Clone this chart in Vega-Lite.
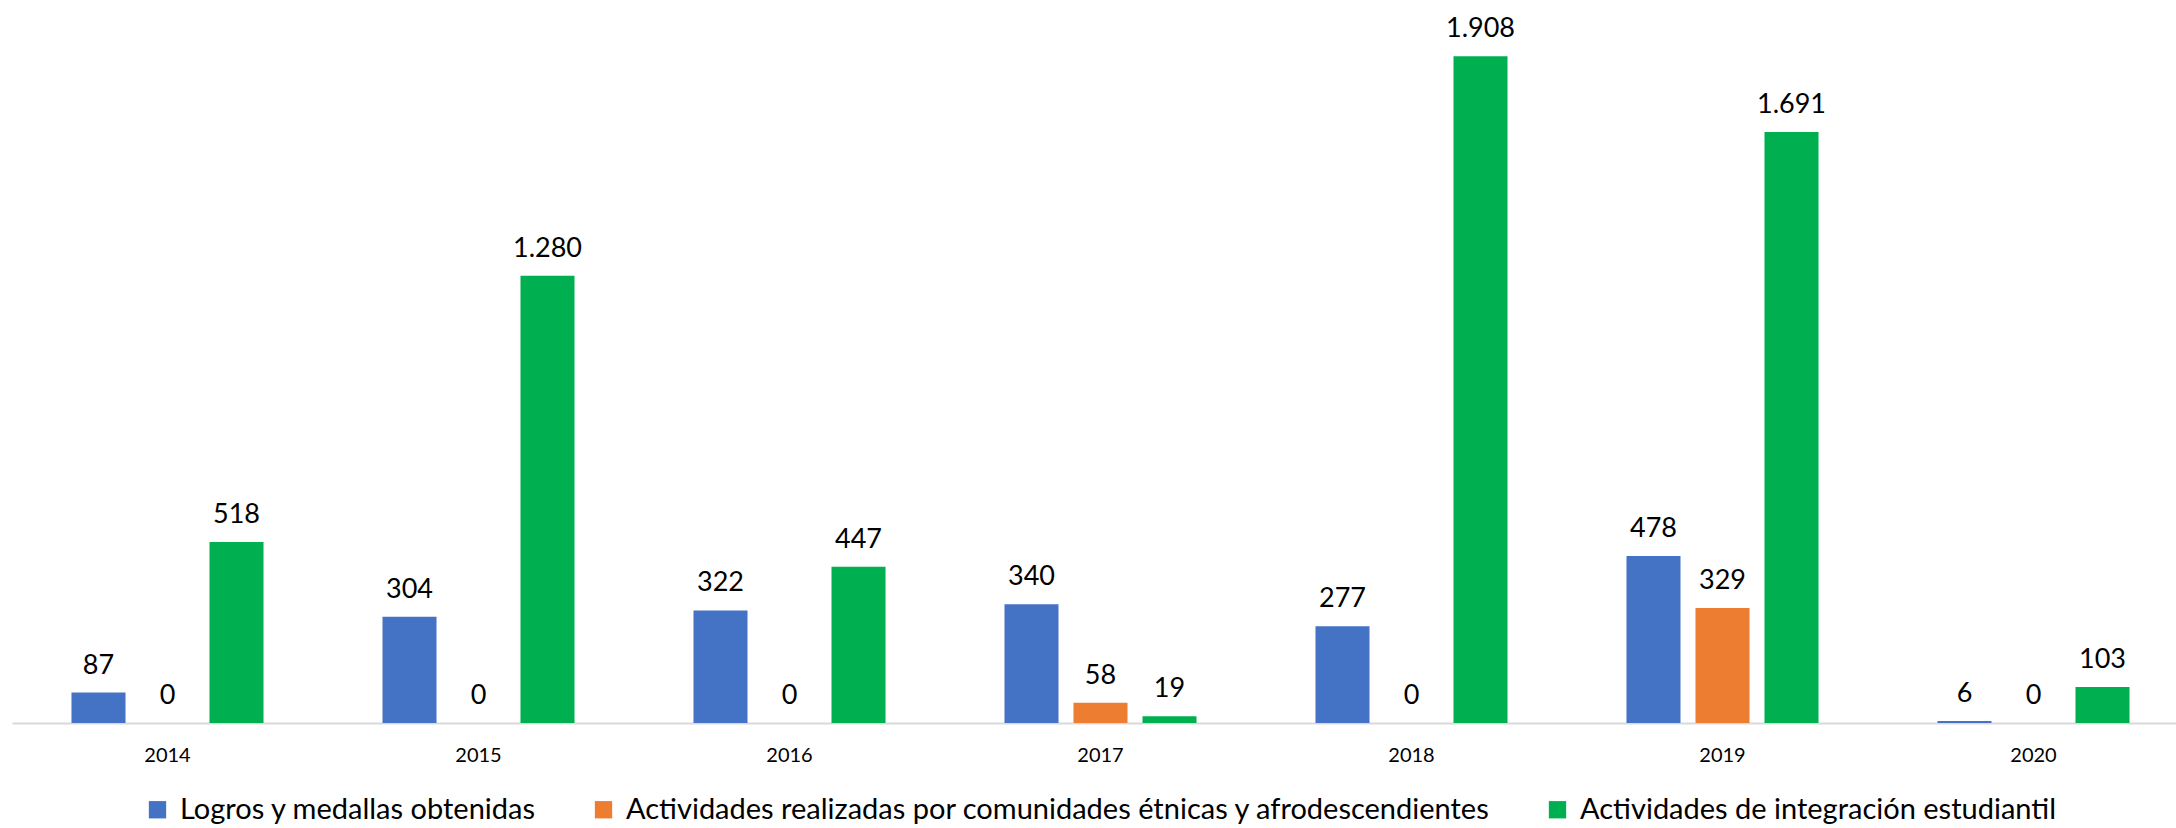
{
  "$schema": "https://vega.github.io/schema/vega-lite/v6.json",
  "width": 2164,
  "height": 699,
  "autosize": {"type": "none"},
  "padding": {"left": 12, "top": 24, "right": 0, "bottom": 105},
  "config": {
    "view": {"stroke": null},
    "font": "Lato",
    "locale": {"number": {"decimal": ",", "thousands": ".", "grouping": [3], "currency": ["$", ""]}}
  },
  "data": {
    "values": [
      {"anio": "2014", "serie": "Logros y medallas obtenidas", "valor": 87},
      {"anio": "2014", "serie": "Actividades realizadas por comunidades étnicas y afrodescendientes", "valor": 0},
      {"anio": "2014", "serie": "Actividades de integración estudiantil", "valor": 518},
      {"anio": "2015", "serie": "Logros y medallas obtenidas", "valor": 304},
      {"anio": "2015", "serie": "Actividades realizadas por comunidades étnicas y afrodescendientes", "valor": 0},
      {"anio": "2015", "serie": "Actividades de integración estudiantil", "valor": 1280},
      {"anio": "2016", "serie": "Logros y medallas obtenidas", "valor": 322},
      {"anio": "2016", "serie": "Actividades realizadas por comunidades étnicas y afrodescendientes", "valor": 0},
      {"anio": "2016", "serie": "Actividades de integración estudiantil", "valor": 447},
      {"anio": "2017", "serie": "Logros y medallas obtenidas", "valor": 340},
      {"anio": "2017", "serie": "Actividades realizadas por comunidades étnicas y afrodescendientes", "valor": 58},
      {"anio": "2017", "serie": "Actividades de integración estudiantil", "valor": 19},
      {"anio": "2018", "serie": "Logros y medallas obtenidas", "valor": 277},
      {"anio": "2018", "serie": "Actividades realizadas por comunidades étnicas y afrodescendientes", "valor": 0},
      {"anio": "2018", "serie": "Actividades de integración estudiantil", "valor": 1908},
      {"anio": "2019", "serie": "Logros y medallas obtenidas", "valor": 478},
      {"anio": "2019", "serie": "Actividades realizadas por comunidades étnicas y afrodescendientes", "valor": 329},
      {"anio": "2019", "serie": "Actividades de integración estudiantil", "valor": 1691},
      {"anio": "2020", "serie": "Logros y medallas obtenidas", "valor": 6},
      {"anio": "2020", "serie": "Actividades realizadas por comunidades étnicas y afrodescendientes", "valor": 0},
      {"anio": "2020", "serie": "Actividades de integración estudiantil", "valor": 103}
    ]
  },
  "encoding": {
    "x": {
      "field": "anio",
      "type": "nominal",
      "scale": {"range": [0, 2177], "paddingInner": 0, "paddingOuter": 0},
      "axis": {
        "title": null,
        "domainColor": "#D9D9D9",
        "domainWidth": 2,
        "ticks": false,
        "labelAngle": 0,
        "labelFontSize": 20,
        "labelPadding": 22,
        "labelColor": "#000000"
      }
    },
    "xOffset": {
      "field": "serie",
      "type": "nominal",
      "sort": ["Logros y medallas obtenidas", "Actividades realizadas por comunidades étnicas y afrodescendientes", "Actividades de integración estudiantil"],
      "scale": {"paddingInner": 0.217, "paddingOuter": 0.862}
    },
    "y": {
      "field": "valor",
      "type": "quantitative",
      "scale": {"domain": [0, 2000]},
      "axis": null
    }
  },
  "layer": [
    {
      "mark": {"type": "bar"},
      "encoding": {
        "color": {
          "field": "serie",
          "type": "nominal",
          "scale": {
            "domain": ["Logros y medallas obtenidas", "Actividades realizadas por comunidades étnicas y afrodescendientes", "Actividades de integración estudiantil"],
            "range": ["#4472C4", "#ED7D31", "#00B050"]
          },
          "legend": {
            "orient": "none",
            "direction": "horizontal",
            "legendX": 131,
            "legendY": 771,
            "title": null,
            "symbolType": "square",
            "symbolSize": 300,
            "symbolStrokeWidth": 0,
            "labelFontSize": 29,
            "labelOffset": 8,
            "columnPadding": 52,
            "labelColor": "#000000",
            "labelLimit": 1200
          }
        }
      }
    },
    {
      "mark": {"type": "text", "baseline": "alphabetic", "dy": -19, "fontSize": 27, "color": "#000000"},
      "encoding": {
        "text": {"field": "valor", "type": "quantitative", "format": ",d"}
      }
    }
  ]
}
